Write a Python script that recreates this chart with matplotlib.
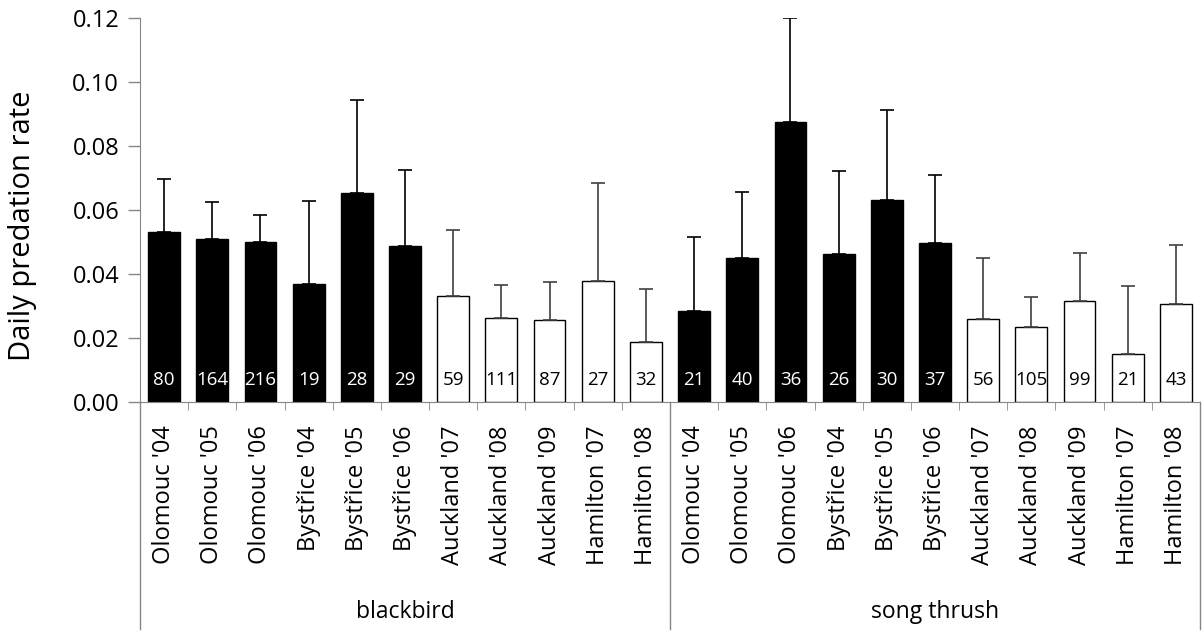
import matplotlib
matplotlib.use("Agg")
import matplotlib.pyplot as plt
import numpy as np

plt.rcParams['font.family'] = ['Open Sans', 'DejaVu Sans']

sites = ["Olomouc '04", "Olomouc '05", "Olomouc '06", "Bystřice '04", "Bystřice '05",
         "Bystřice '06", "Auckland '07", "Auckland '08", "Auckland '09", "Hamilton '07", "Hamilton '08"]
species = ["blackbird", "song thrush"]
blackbird_rate = [0.0530, 0.0510, 0.0501, 0.0369, 0.0654, 0.0487, 0.0330, 0.0264, 0.0255, 0.0379, 0.0186]
blackbird_upper = [0.0696, 0.0624, 0.0585, 0.0628, 0.0943, 0.0725, 0.0538, 0.0365, 0.0375, 0.0684, 0.0353]
blackbird_n = [80, 164, 216, 19, 28, 29, 59, 111, 87, 27, 32]
thrush_rate = [0.0285, 0.0451, 0.0876, 0.0461, 0.0631, 0.0497, 0.0258, 0.0235, 0.0316, 0.0149, 0.0307]
thrush_upper = [0.0516, 0.0656, 0.1200, 0.0722, 0.0913, 0.0710, 0.0451, 0.0327, 0.0466, 0.0362, 0.0490]
thrush_n = [21, 40, 36, 26, 30, 37, 56, 105, 99, 21, 43]
native = [True, True, True, True, True, True, False, False, False, False, False]
yticks = [0.00, 0.02, 0.04, 0.06, 0.08, 0.10, 0.12]

rates = np.array(blackbird_rate + thrush_rate)
uppers = np.array(blackbird_upper + thrush_upper)
ns = blackbird_n + thrush_n
is_native = native + native
labels = sites + sites
x = np.arange(len(rates))

W, H = 1203, 633
fig = plt.figure(figsize=(W / 100, H / 100), dpi=100)
ax = fig.add_axes([140 / W, 231 / H, 1060 / W, 384 / H])

gray = '#868686'
for xi, r, up, nat, n in zip(x, rates, uppers, is_native, ns):
    fc = 'black' if nat else 'white'
    ax.bar(xi, r, width=0.66, color=fc, edgecolor='black', linewidth=1.0, zorder=2)
    ax.errorbar(xi, r, yerr=[[0], [up - r]], fmt='none', ecolor='black' if nat else '#404040',
                elinewidth=1.2, capsize=5, capthick=1.2, zorder=3)
    ax.text(xi, 0.0068, str(n), ha='center', va='center', fontsize=13.5,
            color='white' if nat else 'black', zorder=4)

ax.set_xlim(-0.5, len(rates) - 0.5)
ax.set_ylim(0, 0.12)
ax.set_yticks(yticks)
ax.set_yticklabels([f"{v:.2f}" for v in yticks], fontsize=17)
ax.set_ylabel("Daily predation rate", fontsize=21)
ax.yaxis.set_label_coords(-0.097, 0.458)

ax.set_xticks(x)
ax.set_xticklabels(labels, rotation=90, fontsize=17)
ax.tick_params(axis='x', which='major', length=0, pad=17)
ax.set_xticks(np.arange(0.5, len(rates) - 1, 1.0), minor=True)
ax.tick_params(axis='x', which='minor', length=6, color=gray, direction='out')
ax.tick_params(axis='y', length=9, color=gray, direction='out', width=1, pad=6)

for s in ['top', 'right']:
    ax.spines[s].set_visible(False)
ax.spines['left'].set_color(gray)
ax.spines['bottom'].set_color(gray)

for bx in [-0.5, 10.5, 21.5]:
    ax.axvline(bx, ymin=-0.59, ymax=0, clip_on=False, color=gray, linewidth=1)

for i, sp in enumerate(species):
    ax.text(i * 11 + 5, -0.0655, sp, ha='center', va='center', fontsize=16.5,
            transform=ax.transData, clip_on=False)

fig.savefig("out.png", dpi=100)
